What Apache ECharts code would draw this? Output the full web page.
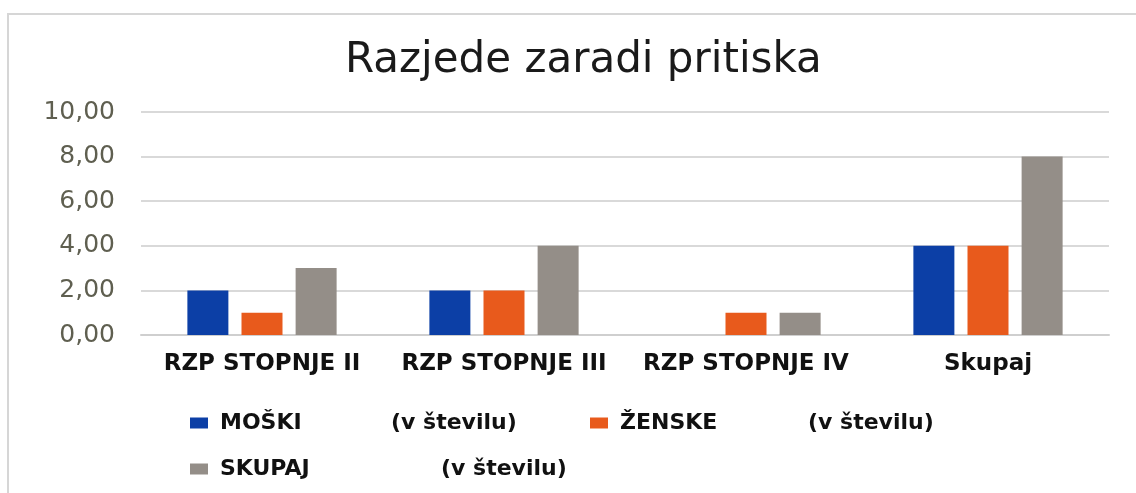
<!DOCTYPE html>
<html>
<head>
<meta charset="utf-8">
<script src="https://cdn.jsdelivr.net/npm/echarts@6/dist/echarts.min.js"></script>
<style>
  html, body { margin: 0; padding: 0; background: #fff; }
  #chart { width: 1136px; height: 493px; }
</style>
</head>
<body>
<div id="chart"></div>
<script>
// data
const categories = ['RZP STOPNJE II', 'RZP STOPNJE III', 'RZP STOPNJE IV', 'Skupaj'];
const seriesNames = ['MOŠKI', 'ŽENSKE', 'SKUPAJ'];
const moski = [2, 2, 0, 4];
const zenske = [1, 2, 1, 4];
const skupaj = [3, 4, 1, 8];
const unitLabel = '(v številu)';

const colors = ['#0c3fa6', '#e85a1c', '#948e88'];
const txt = '#111';
const font = 'DejaVu Sans';

const chart = echarts.init(document.getElementById('chart'));

// one legend per item so they sit like the original two-row layout
const legendPos = [
  { left: 190, top: 412, gap: 171 },
  { left: 590, top: 412, gap: 188 },
  { left: 190, top: 458, gap: 221 },
];
const legends = seriesNames.map((name, i) => ({
  data: [name],
  left: legendPos[i].left,
  top: legendPos[i].top,
  padding: 0,
  icon: 'rect',
  itemWidth: 18,
  itemHeight: 11,
  itemGap: 0,
  formatter: (n) => `{a|${n}}{b|${unitLabel}}`,
  textStyle: {
    rich: {
      a: { width: legendPos[i].gap, padding: [0, 0, 0, 7], fontSize: 22, fontWeight: 'bold', color: txt, fontFamily: font },
      b: { fontSize: 22, fontWeight: 'bold', color: txt, fontFamily: font },
    },
  },
}));

const option = {
  color: colors,
  animation: false,
  title: {
    text: 'Razjede zaradi pritiska',
    left: 340,
    top: 35,
    textStyle: { fontSize: 42, fontWeight: 'normal', color: '#1a1a1a', fontFamily: font },
  },
  graphic: [
    {
      type: 'polyline',
      shape: { points: [[8, 493], [8, 14], [1136, 14]] },
      style: { stroke: '#d6d6d6', lineWidth: 2, fill: null },
    },
  ],
  legend: legends,
  grid: { left: 141, right: 27, top: 112, bottom: 158 },
  xAxis: {
    type: 'category',
    data: categories,
    axisTick: { show: false },
    axisLine: { lineStyle: { color: '#cfcfcf', width: 2 } },
    axisLabel: { interval: 0, margin: 18, fontSize: 23, fontWeight: 'bold', color: txt, fontFamily: font },
  },
  yAxis: {
    type: 'value',
    min: 0,
    max: 10,
    interval: 2,
    axisLine: { show: false },
    axisTick: { show: false },
    splitLine: { lineStyle: { color: '#d9d9d9', width: 2 } },
    axisLabel: {
      margin: 26,
      fontSize: 25,
      color: '#5f5f50',
      fontFamily: font,
      formatter: (v) => v.toFixed(2).replace('.', ','),
    },
  },
  series: [
    { name: seriesNames[0], type: 'bar', data: moski, barWidth: 41, barGap: '32%' },
    { name: seriesNames[1], type: 'bar', data: zenske, barWidth: 41, barGap: '32%' },
    { name: seriesNames[2], type: 'bar', data: skupaj, barWidth: 41, barGap: '32%' },
  ],
};
chart.setOption(option);
</script>
</body>
</html>
